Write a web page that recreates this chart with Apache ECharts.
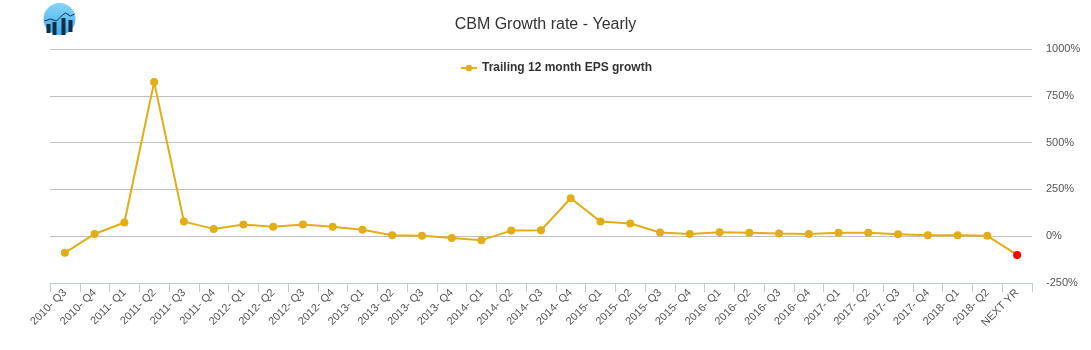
<!DOCTYPE html>
<html>
<head>
<meta charset="utf-8">
<script src="https://cdn.jsdelivr.net/npm/echarts@6/dist/echarts.min.js"></script>
<style>
  html, body { margin: 0; padding: 0; background: #fff; }
  #growth { width: 1091px; height: 350px; }
</style>
</head>
<body>
<div id="growth"></div>
<script>
// quarters + forecast
var quarters = ['2010- Q3', '2010- Q4', '2011- Q1', '2011- Q2', '2011- Q3', '2011- Q4',
  '2012- Q1', '2012- Q2', '2012- Q3', '2012- Q4', '2013- Q1', '2013- Q2', '2013- Q3',
  '2013- Q4', '2014- Q1', '2014- Q2', '2014- Q3', '2014- Q4', '2015- Q1', '2015- Q2',
  '2015- Q3', '2015- Q4', '2016- Q1', '2016- Q2', '2016- Q3', '2016- Q4', '2017- Q1',
  '2017- Q2', '2017- Q3', '2017- Q4', '2018- Q1', '2018- Q2', 'NEXT YR'];
var epsGrowth = [-89, 12, 73, 824, 78, 39, 62, 50, 62, 50, 34, 5, 2, -9, -21, 30, 32,
  203, 78, 68, 20, 12, 21, 18, 14, 12, 18, 18, 11, 5, 5, 2, -100];
var yTicks = { min: -250, max: 1000, step: 250 };

var gold = '#e2ad16';
var lastIdx = epsGrowth.length - 1;

var chart = echarts.init(document.getElementById('growth'));
var option = {
  animation: false,
  title: {
    text: 'CBM Growth rate - Yearly',
    left: 'center',
    top: 12,
    textStyle: {
      fontFamily: 'Liberation Sans, Arial, sans-serif',
      fontSize: 16,
      fontWeight: 'normal',
      color: '#333'
    }
  },
  // little logo top left
  graphic: [{
    type: 'group',
    left: 42,
    top: 3,
    children: [{
      type: 'circle',
      shape: { cx: 16, cy: 17, r: 16 },
      style: {
        fill: {
          type: 'linear', x: 0, y: 0, x2: 0, y2: 1,
          colorStops: [{ offset: 0, color: '#86d3f9' }, { offset: 1, color: '#42aeea' }]
        }
      }
    }, {
      type: 'rect', shape: { x: 3, y: 22, width: 4, height: 9 }, style: { fill: '#0f2d4a' }
    }, {
      type: 'rect', shape: { x: 9, y: 20, width: 4, height: 13 }, style: { fill: '#0f2d4a' }
    }, {
      type: 'rect', shape: { x: 18, y: 16, width: 4, height: 17 }, style: { fill: '#0f2d4a' }
    }, {
      type: 'rect', shape: { x: 25, y: 18, width: 4, height: 12 }, style: { fill: '#0f2d4a' }
    }, {
      type: 'polyline',
      shape: { points: [[1, 19], [7, 17], [13, 19], [19, 13], [22, 11], [27, 14], [31, 12]] },
      style: { stroke: '#0f2d4a', lineWidth: 1, fill: null }
    }]
  }],
  legend: {
    top: 57,
    left: 455,
    itemWidth: 16,
    itemHeight: 8,
    textStyle: {
      fontFamily: 'Liberation Sans, Arial, sans-serif',
      fontSize: 12,
      fontWeight: 'bold',
      color: '#333'
    },
    data: ['Trailing 12 month EPS growth']
  },
  grid: {
    left: 50,
    right: 59,
    top: 49,
    bottom: 67,
    containLabel: false
  },
  xAxis: {
    type: 'category',
    data: quarters,
    boundaryGap: true,
    axisLine: { onZero: false, lineStyle: { color: '#bccbdb', width: 1 } },
    axisTick: { show: true, length: 9, alignWithLabel: false, lineStyle: { color: '#bccbdb' } },
    axisLabel: {
      interval: 0,
      rotate: 45,
      margin: 8,
      fontFamily: 'Liberation Sans, Arial, sans-serif',
      fontSize: 11,
      color: '#555'
    },
    splitLine: { show: false }
  },
  yAxis: {
    type: 'value',
    position: 'right',
    min: yTicks.min,
    max: yTicks.max,
    interval: yTicks.step,
    axisLine: { show: false },
    axisTick: { show: false },
    axisLabel: {
      formatter: function (v) { return v + '%'; },
      margin: 14,
      fontFamily: 'Liberation Sans, Arial, sans-serif',
      fontSize: 11,
      color: '#555'
    },
    splitLine: { lineStyle: { color: '#c0c0c0', width: 1 } }
  },
  series: [{
    name: 'Trailing 12 month EPS growth',
    type: 'line',
    data: epsGrowth.map(function (v, i) {
      if (i === lastIdx) {
        return { value: v, itemStyle: { color: '#ff0000' } };
      }
      return v;
    }),
    symbol: 'circle',
    symbolSize: 8,
    color: gold,
    lineStyle: { color: gold, width: 2 },
    itemStyle: { color: gold }
  }]
};
if (option) {
  chart.setOption(option);
}
</script>
</body>
</html>
